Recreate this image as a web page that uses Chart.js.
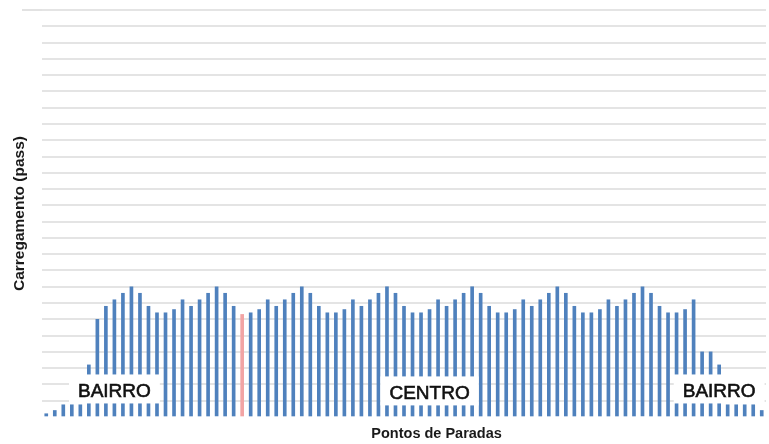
<!DOCTYPE html>
<html>
<head>
<meta charset="utf-8">
<script src="https://cdn.jsdelivr.net/npm/chart.js@4/dist/chart.umd.min.js"></script>
<style>
  html, body { margin: 0; padding: 0; background: #ffffff; }
  #wrap { width: 769px; height: 444px; position: relative; }
</style>
</head>
<body>
<div id="wrap"><canvas id="chart"></canvas></div>
<script>
// Passenger load at each stop along the route
const stops = Array.from({ length: 85 }, (_, i) => String(i + 1));
const load = [
  2, 4, 7.5, 7.5, 7.5, 32, 60, 68, 72, 76, 80,
  76, 68, 64, 64, 66, 72, 68, 72, 76, 80,
  76, 68, 63, 64, 66, 72, 68, 72, 76, 80,
  76, 68, 64, 64, 66, 72, 68, 72, 76, 80,
  76, 68, 64, 64, 66, 72, 68, 72, 76, 80,
  76, 68, 64, 64, 66, 72, 68, 72, 76, 80,
  76, 68, 64, 64, 66, 72, 68, 72, 76, 80,
  76, 68, 64, 64, 66, 72, 40, 40, 32, 7.5,
  7.5, 7.5, 7.5, 4
];
const markedStop = 23;            // stop drawn in a highlight colour
const yMax = 250;
const yStep = 10;

// Region captions: text, stop index it is centred on, and height (load units)
const regionText = ['BAIRRO', 'CENTRO', 'BAIRRO'];
const regionStop = [8, 45, 79];
const regionLevel = [16, 14.8, 16];

const xTitle = 'Pontos de Paradas';
const yTitle = 'Carregamento (pass)';

const BLUE = '#4f81bd';
const PINK = '#f2a4a4';

const overlay = {
  id: 'overlay',
  beforeDatasetsDraw(chart) {
    // the top grid line runs a little further left than the others
    const { ctx, chartArea, scales } = chart;
    const yTop = Math.round(scales.y.getPixelForValue(yMax));
    ctx.save();
    ctx.strokeStyle = '#e2e2e2';
    ctx.lineWidth = 2;
    ctx.beginPath();
    ctx.moveTo(22, yTop);
    ctx.lineTo(chartArea.left, yTop);
    ctx.stroke();
    ctx.restore();
  },
  afterDatasetsDraw(chart) {
    const { ctx, chartArea, scales } = chart;
    ctx.save();
    // region captions on white boxes
    ctx.font = '19px "Liberation Sans", Arial, sans-serif';
    ctx.textAlign = 'center';
    ctx.textBaseline = 'middle';
    regionText.forEach((t, k) => {
      const cx = scales.x.getPixelForValue(regionStop[k]);
      const cy = scales.y.getPixelForValue(regionLevel[k]);
      const w = ctx.measureText(t).width;
      ctx.fillStyle = '#ffffff';
      ctx.fillRect(cx - w / 2 - 9, cy - 16.5, w + 18, 29);
      ctx.fillStyle = '#111111';
      ctx.strokeStyle = '#111111';
      ctx.lineWidth = 0.6;
      ctx.fillText(t, cx, cy + 1);
      ctx.strokeText(t, cx, cy + 1);
    });
    // axis titles
    ctx.fillStyle = '#1a1a1a';
    ctx.font = 'bold 14.5px "Liberation Sans", Arial, sans-serif';
    ctx.fillText(xTitle, chartArea.left + (chartArea.right - chartArea.left) * 0.545, 434);
    ctx.translate(20, (chartArea.top + chartArea.bottom) / 2);
    ctx.rotate(-Math.PI / 2);
    ctx.font = 'bold 15.5px "Liberation Sans", Arial, sans-serif';
    ctx.fillText(yTitle, 0, 0);
    ctx.restore();
  }
};

new Chart(document.getElementById('chart'), {
  type: 'bar',
  data: {
    labels: stops,
    datasets: [{
      data: load,
      backgroundColor: load.map((_, i) => i === markedStop ? PINK : BLUE),
      barThickness: 3,
      borderWidth: 0
    }]
  },
  options: {
    responsive: true,
    maintainAspectRatio: false,
    animation: false,
    layout: { padding: { left: 42, right: 3, top: 10, bottom: 27 } },
    plugins: { legend: { display: false }, tooltip: { enabled: false } },
    scales: {
      x: {
        grid: { display: false },
        border: { display: false },
        ticks: { display: false },
        afterFit(s) { s.height = 0; }
      },
      y: {
        min: 0,
        max: yMax,
        ticks: { display: false, stepSize: yStep },
        border: { display: false },
        grid: {
          drawTicks: false,
          lineWidth: 2,
          color: (c) => c.tick && c.tick.value === 0 ? 'rgba(0,0,0,0)' : '#e4e4e4'
        },
        afterFit(s) { s.width = 0; }
      }
    }
  },
  plugins: [overlay]
});
</script>
</body>
</html>
